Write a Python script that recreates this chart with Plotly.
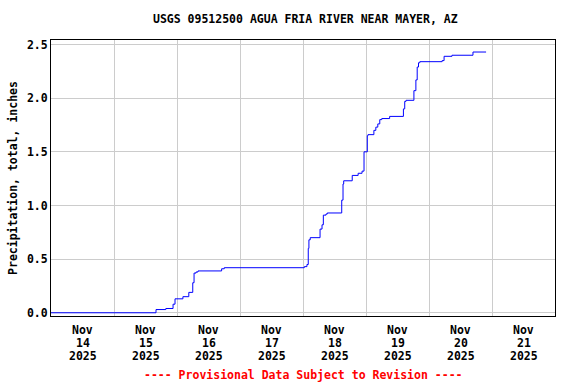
import plotly.graph_objects as go

title = "USGS 09512500 AGUA FRIA RIVER NEAR MAYER, AZ"
y_title = "Precipitation, total, inches"
footer = "---- Provisional Data Subject to Revision ----"

times = [
    "2025-11-14 00:00", "2025-11-15 15:15", "2025-11-15 16:00", "2025-11-15 19:45",
    "2025-11-15 22:30", "2025-11-15 23:15", "2025-11-16 02:15", "2025-11-16 04:30",
    "2025-11-16 06:00", "2025-11-16 06:30", "2025-11-16 07:15", "2025-11-16 08:00",
    "2025-11-16 17:00", "2025-11-16 18:00", "2025-11-18 00:30", "2025-11-18 01:30",
    "2025-11-18 02:00", "2025-11-18 02:15", "2025-11-18 02:45", "2025-11-18 06:30",
    "2025-11-18 07:15", "2025-11-18 07:45", "2025-11-18 08:45", "2025-11-18 09:15",
    "2025-11-18 14:45", "2025-11-18 15:15", "2025-11-18 15:30", "2025-11-18 18:45",
    "2025-11-18 21:00", "2025-11-18 22:30", "2025-11-18 23:15", "2025-11-19 00:30",
    "2025-11-19 00:45", "2025-11-19 03:00", "2025-11-19 03:45", "2025-11-19 04:30",
    "2025-11-19 05:15", "2025-11-19 06:00", "2025-11-19 09:00", "2025-11-19 14:15",
    "2025-11-19 14:45", "2025-11-19 15:15", "2025-11-19 18:15", "2025-11-19 19:00",
    "2025-11-19 19:30", "2025-11-19 20:00", "2025-11-19 20:30", "2025-11-20 05:00",
    "2025-11-20 05:45", "2025-11-20 08:45", "2025-11-20 16:45", "2025-11-20 21:45",
]
values = [
    0.00, 0.00, 0.03, 0.04,
    0.08, 0.13, 0.15, 0.19,
    0.28, 0.37, 0.38, 0.39,
    0.41, 0.42, 0.43, 0.45,
    0.60, 0.68, 0.70, 0.78,
    0.82, 0.91, 0.92, 0.93,
    1.05, 1.20, 1.23, 1.28,
    1.30, 1.32, 1.50, 1.65,
    1.66, 1.70, 1.73, 1.76,
    1.80, 1.81, 1.83, 1.90,
    1.97, 1.98, 2.07, 2.17,
    2.29, 2.33, 2.34, 2.35,
    2.39, 2.40, 2.43, 2.43,
]

tick_days = ["2025-11-14", "2025-11-15", "2025-11-16", "2025-11-17",
             "2025-11-18", "2025-11-19", "2025-11-20", "2025-11-21"]
tick_month = ["Nov"] * 8
tick_daynum = ["14", "15", "16", "17", "18", "19", "20", "21"]
tick_year = ["2025"] * 8
tick_positions = [d + " 12:00" for d in tick_days]

FONT = "DejaVu Sans Mono"
FS = 11.5
PLOT_H = 384 - 40 - 68

fig = go.Figure()
fig.add_trace(go.Scatter(
    x=times, y=values, mode="lines", line_shape="hv",
    line=dict(color="#0000ff", width=1), showlegend=False, hoverinfo="skip",
))

fig.update_layout(
    width=576, height=384,
    margin=dict(l=51, r=21, t=40, b=68, autoexpand=False),
    paper_bgcolor="white", plot_bgcolor="white",
    font=dict(family=FONT, size=FS, color="black", weight="bold"),
    title=dict(text=title, x=0.53, xanchor="center", y=1 - 19 / 384, yanchor="middle",
               font=dict(family=FONT, size=FS, color="black", weight="bold"),
               automargin=False),
    showlegend=False,
)

fig.update_xaxes(
    type="date", automargin=False,
    range=["2025-11-14 00:00", "2025-11-22 00:00"],
    tickmode="array", tickvals=tick_positions, ticktext=[""] * len(tick_positions),
    showgrid=False, ticks="",
    minor=dict(showgrid=True, gridcolor="#cccccc", gridwidth=1,
               tick0="2025-11-14", dtick=86400000, ticks=""),
    showline=True, mirror=True, linecolor="black", linewidth=1,
    zeroline=False,
)

fig.update_yaxes(
    automargin=False,
    range=[-0.03, 2.542],
    tickmode="array", tickvals=[0, 0.5, 1.0, 1.5, 2.0, 2.5],
    tickformat=".1f",
    showgrid=True, gridcolor="#cccccc", gridwidth=1,
    showline=True, mirror=True, linecolor="black", linewidth=1,
    zeroline=False, ticks="",
    title=dict(text=y_title, standoff=6,
               font=dict(family=FONT, size=FS, color="black", weight="bold")),
    tickfont=dict(family=FONT, size=FS, color="black", weight="bold"),
)

for rows, py in ((tick_month, 330), (tick_daynum, 343), (tick_year, 356)):
    for pos, txt in zip(tick_positions, rows):
        fig.add_annotation(
            text=txt, x=pos, xref="x", yref="paper", y=-(py - 316) / PLOT_H,
            xanchor="center", yanchor="middle", showarrow=False,
            font=dict(family=FONT, size=FS, color="black", weight="bold"),
        )

fig.add_annotation(
    text=footer, xref="paper", yref="paper", x=0.5, y=-(375 - 316) / PLOT_H,
    xanchor="center", yanchor="middle", showarrow=False,
    font=dict(family=FONT, size=FS, color="red", weight="bold"),
)

fig.write_html(
    "out.html",
    config={"displayModeBar": False, "staticPlot": True},
    post_script="document.body.style.margin='0';document.body.style.overflow='hidden';",
)
